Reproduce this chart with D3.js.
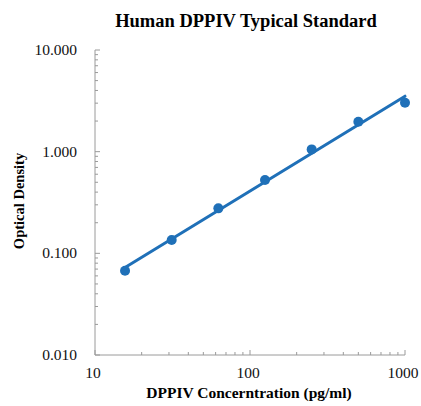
<!DOCTYPE html>
<html><head><meta charset="utf-8">
<script src="https://cdn.jsdelivr.net/npm/d3@7"></script>
<style>body{margin:0;background:#fff}svg{display:block}</style>
</head><body>
<script>
const concentrations = [15.625, 31.25, 62.5, 125, 250, 500, 1000];
const odValues = [0.0675, 0.135, 0.277, 0.526, 1.053, 1.97, 3.03];
const yTickValues = [0.01, 0.1, 1, 10];
const xTickValues = [10, 100, 1000];

const W = 421, H = 406;
const svg = d3.select("body").append("svg").attr("width", W).attr("height", H);
const x = d3.scaleLog().domain([10, 1000]).range([95, 405]);
const y = d3.scaleLog().domain([0.01, 10]).range([355, 50]);
const serif = "'Liberation Serif','Times New Roman',serif";
const axisColor = "#9a9a9a";

function minorTicks(domain) {
  const out = [];
  for (let d = domain[0]; d < domain[1]; d *= 10)
    for (let k = 2; k <= 9; k++) out.push(d * k);
  return out;
}
const g = svg.append("g");
g.append("line").attr("x1", x(10)).attr("x2", x(10)).attr("y1", y(10)).attr("y2", y(0.01))
  .attr("stroke", axisColor).attr("stroke-width", 1);
g.selectAll(".ymaj").data(yTickValues).enter().append("line")
  .attr("x1", x(10)).attr("x2", x(10) + 5).attr("y1", d => y(d)).attr("y2", d => y(d))
  .attr("stroke", axisColor);
g.selectAll(".ymin").data(minorTicks([0.01, 10])).enter().append("line")
  .attr("x1", x(10)).attr("x2", x(10) + 3).attr("y1", d => y(d)).attr("y2", d => y(d))
  .attr("stroke", axisColor);
g.append("line").attr("x1", x(10)).attr("x2", x(1000)).attr("y1", y(0.01)).attr("y2", y(0.01))
  .attr("stroke", axisColor).attr("stroke-width", 1);
g.selectAll(".xmaj").data(xTickValues).enter().append("line")
  .attr("x1", d => x(d)).attr("x2", d => x(d)).attr("y1", y(0.01)).attr("y2", y(0.01) - 5)
  .attr("stroke", axisColor);
g.selectAll(".xmin").data(minorTicks([10, 1000])).enter().append("line")
  .attr("x1", d => x(d)).attr("x2", d => x(d)).attr("y1", y(0.01)).attr("y2", y(0.01) - 3)
  .attr("stroke", axisColor);

svg.selectAll(".yl").data(yTickValues).enter().append("text")
  .attr("x", 77).attr("y", d => y(d) + 5).attr("text-anchor", "end")
  .attr("font-family", serif).attr("font-size", 15.5).attr("fill", "#111")
  .text(d => d3.format(".3f")(d));
svg.selectAll(".xl").data(xTickValues).enter().append("text")
  .attr("x", d => x(d) - 2).attr("y", 378).attr("text-anchor", "middle")
  .attr("font-family", serif).attr("font-size", 15.5).attr("fill", "#111")
  .text(d => d);

svg.append("text").attr("x", 246).attr("y", 27).attr("text-anchor", "middle")
  .attr("font-family", serif).attr("font-weight", "bold").attr("font-size", 18.5)
  .text("Human DPPIV Typical Standard");
svg.append("text").attr("x", 249).attr("y", 398).attr("text-anchor", "middle")
  .attr("font-family", serif).attr("font-weight", "bold").attr("font-size", 15.5)
  .text("DPPIV Concerntration (pg/ml)");
svg.append("text").attr("transform", "translate(24,201) rotate(-90)").attr("text-anchor", "middle")
  .attr("font-family", serif).attr("font-weight", "bold").attr("font-size", 14.5)
  .text("Optical Density");

const lx = concentrations.map(Math.log10), ly = odValues.map(Math.log10);
const mx = d3.mean(lx), my = d3.mean(ly);
const b = d3.sum(lx.map((v, i) => (v - mx) * (ly[i] - my))) / d3.sum(lx.map(v => (v - mx) ** 2));
const a = my - b * mx;
const fit = d => Math.pow(10, a + b * Math.log10(d));
const ends = [concentrations[0], concentrations[concentrations.length - 1]];
svg.append("path").datum(ends)
  .attr("d", d3.line().x(d => x(d)).y(d => y(fit(d))))
  .attr("stroke", "#1f70b8").attr("stroke-width", 3).attr("fill", "none").attr("stroke-linecap", "round");

svg.selectAll(".pt").data(concentrations).enter().append("circle")
  .attr("cx", d => x(d)).attr("cy", (d, i) => y(odValues[i])).attr("r", 5)
  .attr("fill", "#1f70b8");
</script>
</body></html>
